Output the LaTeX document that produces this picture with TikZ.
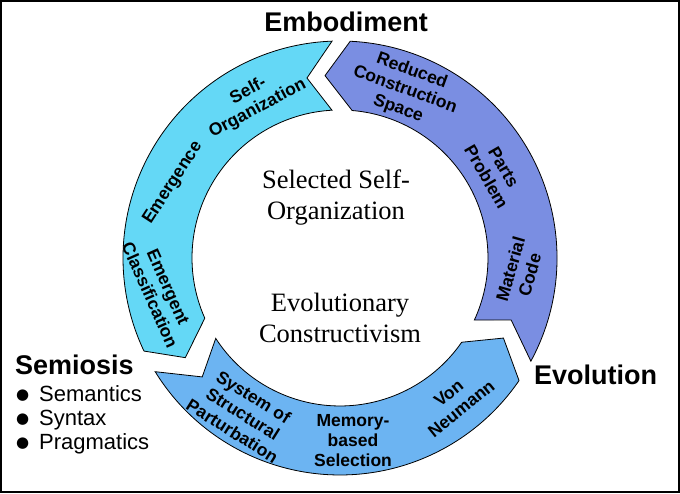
\documentclass[tikz,border=0pt]{standalone}
\usepackage{fontspec}
\setmainfont{Liberation Serif}
\setsansfont{Liberation Sans}
\newfontfamily\symfont{DejaVu Sans}
\definecolor{cyanA}{RGB}{100,216,246}
\definecolor{rightA}{RGB}{122,142,226}
\definecolor{bottomA}{RGB}{108,180,242}
\begin{document}
\begin{tikzpicture}[x=1pt,y=1pt,
  arrowshape/.style={draw=black, line width=0.8pt, line join=miter},
  lab/.style={font=\sffamily\bfseries\fontsize{17.5}{20}\selectfont, align=center, inner sep=0pt},
  ctr/.style={font=\fontsize{26.5}{31}\selectfont, align=center, inner sep=0pt},
  ttl/.style={font=\sffamily\bfseries\fontsize{27}{32}\selectfont, inner sep=0pt},
  lst/.style={font=\sffamily\fontsize{22}{24}\selectfont, inner sep=0pt, anchor=base west},
  bul/.style={font=\symfont\fontsize{15}{15}\selectfont, inner sep=0pt, anchor=base west}]
\useasboundingbox (0,0) rectangle (680,494);
\draw[line width=2pt] (1,2) rectangle (679,493);
\coordinate (C) at (340,236);
\begin{scope}[shift={(C)}]
  \path[arrowshape, fill=cyanA] (92.1:217pt) arc[start angle=92.1, end angle=205.4, radius=217pt]
    -- (212.8:184pt) -- (204:148pt) arc[start angle=204, end angle=93.1, radius=148pt]
    -- (100.4:183pt) -- cycle;
  \path[arrowshape, fill=rightA] (331.6:217pt) arc[start angle=331.6, end angle=447.3, radius=217pt]
    -- (454.7:183pt) -- (445.3:148pt) arc[start angle=445.3, end angle=335.2, radius=148pt]
    -- (340.1:182pt) -- cycle;
  \path[arrowshape, fill=bottomA] (211.6:217pt) arc[start angle=211.6, end angle=325.6, radius=217pt]
    -- (333.9:182pt) -- (325.3:148pt) arc[start angle=325.3, end angle=212.9, radius=148pt]
    -- (220.8:182pt) -- cycle;
\end{scope}
\node[lab, rotate=28] (selforg) at (253,394) {Self-\\Organization};
\node[lab, rotate=57] (emerg) at (173,311) {Emergence};
\node[lab, rotate=-66] (emcl) at (159,203) {Emergent\\Classification};
\node[lab, rotate=-20] (rcs) at (405,404) {Reduced\\Construction\\Space};
\node[lab, rotate=-60] (parts) at (495,322) {Parts\\Problem};
\node[lab, rotate=74] (mat) at (520,222) {Material\\Code};
\node[lab, rotate=39] (vn) at (455,93) {Von\\Neumann};
\node[lab] (mem) at (353,53) {Memory-\\based\\Selection};
\node[lab, rotate=-32] (ssp) at (243,80) {System of\\Structural\\Parturbation};
\node[ctr] (sso) at (336,296) {Selected Self-\\Organization};
\node[ctr] (evc) at (340,176) {Evolutionary\\Constructivism};
\node[ttl, anchor=base] (emb) at (346,462) {Embodiment};
\node[ttl, anchor=base] (evo) at (595.5,109) {Evolution};
\node[ttl, anchor=base west] (sem) at (15,119) {Semiosis};
\node[bul] (b1) at (16,94) {●};
\node[bul] (b2) at (16,70) {●};
\node[bul] (b3) at (16,46) {●};
\node[lst] (l1) at (39,92) {Semantics};
\node[lst] (l2) at (39,68) {Syntax};
\node[lst] (l3) at (39,44) {Pragmatics};
\end{tikzpicture}
\end{document}
